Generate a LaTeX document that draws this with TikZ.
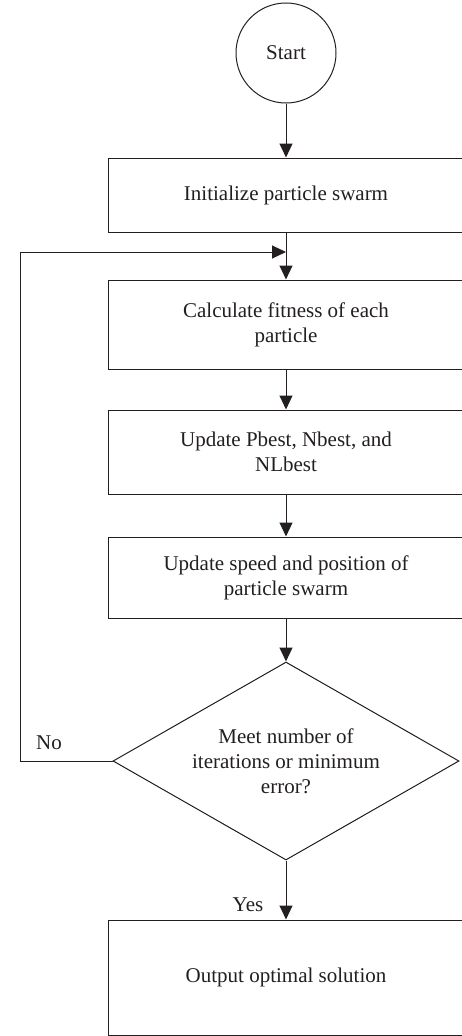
\documentclass[tikz,border=0pt]{standalone}
\usepackage{fontspec}
\setmainfont{Liberation Serif}
\usetikzlibrary{arrows.meta,shapes.geometric}
\definecolor{inkclr}{HTML}{231F20}

\begin{document}
\begin{tikzpicture}[x=1pt,y=-1pt,
  every node/.style={font=\fontsize{21}{25}\selectfont,text=inkclr},
  stepbox/.style={draw=inkclr,line width=1pt,rectangle,minimum width=356pt,align=center,inner sep=0pt},
  arr/.style={draw=inkclr,line width=1pt,-{Triangle[length=14pt,width=13pt]}}]
\useasboundingbox (0,0) rectangle (461,1036);
\node[draw=inkclr,line width=1pt,circle,minimum size=100pt,inner sep=0pt] (start) at (286,53) {Start};
\node[stepbox,minimum height=74pt] (init) at (286,195) {Initialize particle swarm};
\node[stepbox,minimum height=89pt] (fit) at (286,324.5) {Calculate fitness of each\\particle};
\node[stepbox,minimum height=84pt] (best) at (286,452) {Update Pbest, Nbest, and\\NLbest};
\node[stepbox,minimum height=81pt] (move) at (286,577.5) {Update speed and position of\\particle swarm};
\node[draw=inkclr,line width=1pt,diamond,shape aspect=1.75,minimum width=346pt,minimum height=198pt,inner sep=0pt,align=center] (stop) at (286,761) {Meet number of\\iterations or minimum\\error?};
\node[stepbox,minimum height=115pt] (out) at (286,977.5) {Output optimal solution};
\coordinate (join) at (286,252);
\draw[arr] (start) -- (init);
\draw[arr] (init) -- (fit);
\draw[arr] (fit) -- (best);
\draw[arr] (best) -- (move);
\draw[arr] (move) -- (stop);
\draw[arr] (stop) -- (out);
\draw[arr] (stop.west) -- (20,761) |- (join);
\node (no) at (49,743) {No};
\node (yes) at (248,905) {Yes};
\end{tikzpicture}
\end{document}
